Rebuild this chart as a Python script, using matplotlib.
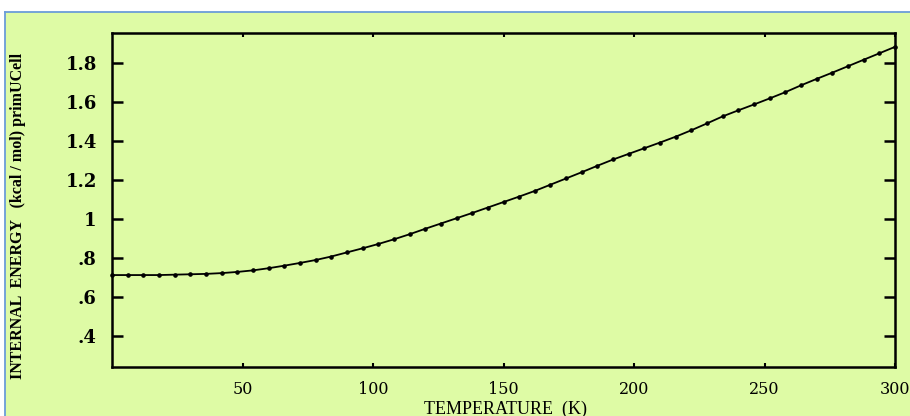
import matplotlib
matplotlib.use('Agg')
import matplotlib.pyplot as plt
from matplotlib.patches import Rectangle
from matplotlib.lines import Line2D

# temperature (K) and internal energy (kcal / mol primUCell)
temperature = list(range(0, 301, 6))
energy = [0.713, 0.713, 0.713, 0.713, 0.715, 0.717, 0.719, 0.723, 0.729, 0.737,
          0.748, 0.761, 0.775, 0.790, 0.808, 0.829, 0.850, 0.872, 0.896, 0.922,
          0.950, 0.977, 1.004, 1.031, 1.059, 1.087, 1.115, 1.144, 1.176, 1.208,
          1.240, 1.273, 1.305, 1.334, 1.363, 1.392, 1.422, 1.455, 1.490, 1.526,
          1.557, 1.587, 1.618, 1.650, 1.685, 1.718, 1.750, 1.783, 1.816, 1.849,
          1.882]

x_ticks = [50, 100, 150, 200, 250, 300]
y_ticks = [0.4, 0.6, 0.8, 1.0, 1.2, 1.4, 1.6, 1.8]
y_tick_labels = ['.4', '.6', '.8', '1', '1.2', '1.4', '1.6', '1.8']

W, H = 910, 416
bg = '#defba5'
border = '#6b9cd8'

fig = plt.figure(figsize=(W / 100, H / 100), dpi=100, facecolor='white')

# green panel with blue top/left border, kept behind the axes
fig.patches.append(Rectangle((5 / W, 0), 1 - 5 / W, 1 - 12 / H, transform=fig.transFigure,
                             facecolor=bg, edgecolor='none', zorder=-5))
fig.lines.append(Line2D([5 / W, 1], [1 - 12 / H, 1 - 12 / H], transform=fig.transFigure,
                        color=border, lw=1.3, zorder=-4))
fig.lines.append(Line2D([5 / W, 5 / W], [0, 1 - 12 / H], transform=fig.transFigure,
                        color=border, lw=1.3, zorder=-4))

ax = fig.add_axes([112 / W, (H - 367) / H, (895 - 112) / W, (367 - 33) / H])
ax.set_facecolor(bg)

ax.plot(temperature, energy, color='black', lw=1.3, marker='o', markersize=2.3,
        clip_on=False)

ax.set_xlim(0, 300)
ax.set_ylim(0.242, 1.953)

ax.set_xticks(x_ticks)
ax.set_xticklabels([str(t) for t in x_ticks], family='DejaVu Serif', fontsize=11.5)
ax.set_yticks(y_ticks)
ax.set_yticklabels(y_tick_labels, family='DejaVu Serif', fontsize=13, fontweight='bold')

ax.tick_params(axis='x', direction='in', length=3, width=1.5, top=True, pad=10)
ax.tick_params(axis='y', direction='in', length=8, width=1.8, right=True, pad=11)

for s in ax.spines.values():
    s.set_linewidth(1.8)

fig.text(505 / W, 1 - 409 / H, 'TEMPERATURE  (K)', ha='center', va='center',
         family='Liberation Serif', fontsize=13)
fig.text(18 / W, 1 - 216 / H, 'INTERNAL  ENERGY   (kcal / mol) primUCell', rotation=90,
         ha='center', va='center', family='Liberation Serif', fontsize=11.5,
         fontweight='bold')

fig.savefig('out.png', dpi=100, facecolor=fig.get_facecolor())
